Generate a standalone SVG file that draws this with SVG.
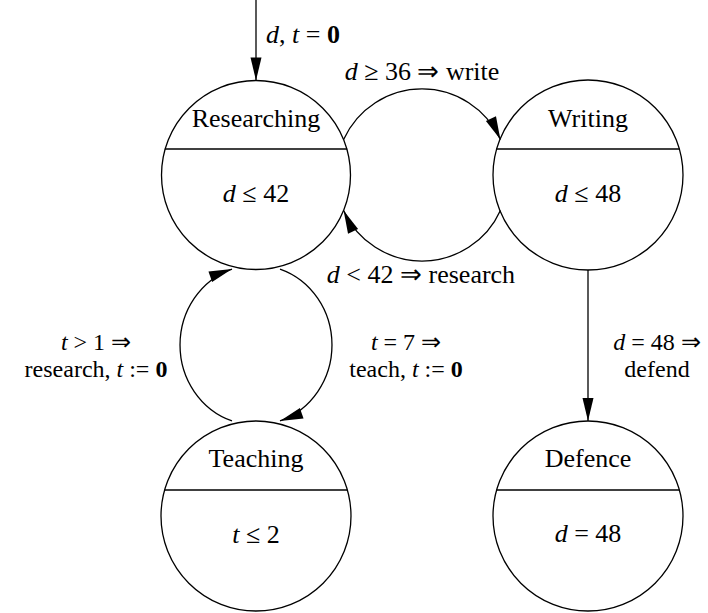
<svg xmlns="http://www.w3.org/2000/svg" width="708" height="613" viewBox="0 0 708 613">
<style>
text{font-family:"Liberation Serif","Times New Roman",serif;font-size:26px;fill:#000}
.c{text-anchor:middle}
.s{font-size:24px}
.i{font-style:italic}
.b{font-weight:bold}
.st{fill:#fff;stroke:#000;stroke-width:1.3}
.sep{stroke:#000;stroke-width:1.3}
.e{fill:none;stroke:#000;stroke-width:1.3;marker-end:url(#ah)}
</style>
<defs>
<marker id="ah" markerUnits="userSpaceOnUse" markerWidth="24" markerHeight="12" refX="23" refY="5.5" orient="auto" overflow="visible">
<path d="M0,0 L23,5.5 L0,11 z" fill="#000"/>
</marker>
</defs>
<rect width="708" height="613" fill="#fff"/>
<g id="researching">
<circle class="st" cx="256" cy="175" r="94.5"/>
<line class="sep" x1="164.9" y1="149" x2="347.1" y2="149"/>
<text class="c" x="256" y="127">Researching</text>
<text class="c" x="256" y="202"><tspan class="i">d</tspan> ≤ 42</text>
</g>
<g id="writing">
<circle class="st" cx="588" cy="175" r="95"/>
<line class="sep" x1="496.6" y1="149" x2="679.4" y2="149"/>
<text class="c" x="588" y="127">Writing</text>
<text class="c" x="588" y="202"><tspan class="i">d</tspan> ≤ 48</text>
</g>
<g id="teaching">
<circle class="st" cx="256" cy="516" r="95"/>
<line class="sep" x1="164.6" y1="490" x2="347.4" y2="490"/>
<text class="c" x="256" y="467">Teaching</text>
<text class="c" x="256" y="543"><tspan class="i">t</tspan> ≤ 2</text>
</g>
<g id="defence">
<circle class="st" cx="588" cy="516" r="95"/>
<line class="sep" x1="496.6" y1="490" x2="679.4" y2="490"/>
<text class="c" x="588" y="467">Defence</text>
<text class="c" x="588" y="542"><tspan class="i">d</tspan> = 48</text>
</g>
<g id="connectors">
<path class="e" d="M256,0 L256,80.5"/>
<path class="e" d="M343.6,139.6 A86,86 0 0 1 500.4,139.6"/>
<path class="e" d="M500.4,210.4 A86,86 0 0 1 343.6,210.4"/>
<path class="e" d="M232,420.9 A76,80 0 0 1 232,269.1"/>
<path class="e" d="M280,269.1 A76,80 0 0 1 280,420.9"/>
<path class="e" d="M588,270 L588,421"/>
</g>
<g id="labels">
<text x="266" y="43"><tspan class="i">d</tspan>, <tspan class="i">t</tspan> = <tspan class="b">0</tspan></text>
<text class="c" x="422" y="80"><tspan class="i">d</tspan> ≥ 36 ⇒ write</text>
<text class="c" x="421" y="283"><tspan class="i">d</tspan> &lt; 42 ⇒ research</text>
<text class="c s" x="96" y="350"><tspan class="i">t</tspan> &gt; 1 ⇒</text>
<text class="c s" x="96" y="377">research, <tspan class="i">t</tspan> := <tspan class="b">0</tspan></text>
<text class="c s" x="406" y="350"><tspan class="i">t</tspan> = 7 ⇒</text>
<text class="c s" x="406" y="377">teach, <tspan class="i">t</tspan> := <tspan class="b">0</tspan></text>
<text class="c s" x="657" y="350"><tspan class="i">d</tspan> = 48 ⇒</text>
<text class="c s" x="657" y="377">defend</text>
</g>
</svg>
